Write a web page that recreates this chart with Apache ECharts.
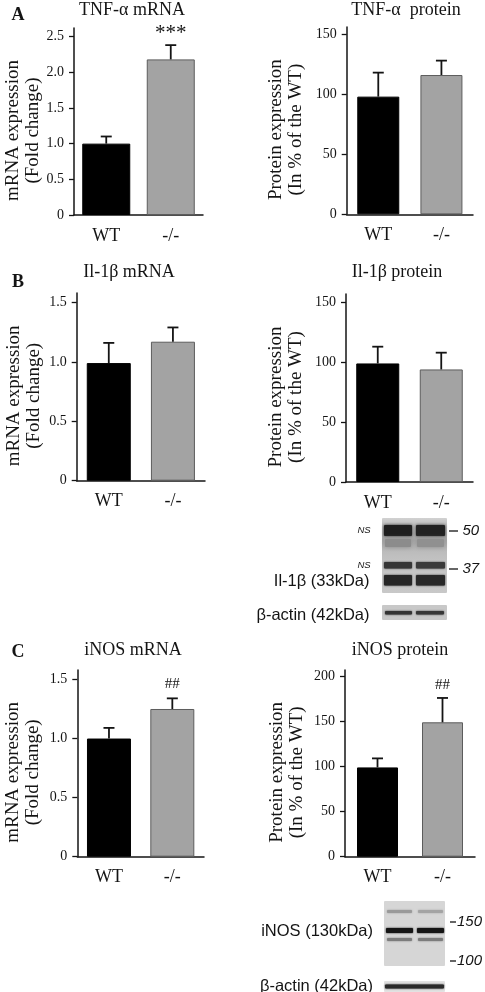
<!DOCTYPE html>
<html><head><meta charset="utf-8">
<script src="https://cdn.jsdelivr.net/npm/echarts@6/dist/echarts.min.js"></script>
<style>html,body{margin:0;padding:0;background:#fff}#c{width:485px;height:992px}</style>
</head><body><div id="c"></div>
<script>
// ---- data ----
const groups = ['WT', '-/-'];
const tnfMrnaMean = [1.00, 2.18];
const tnfMrnaErr = [0.10, 0.20];
const tnfMrnaSig = ['', '***'];
const tnfProtMean = [98, 116];
const tnfProtErr = [20, 12];
const tnfProtSig = ['', ''];
const il1bMrnaMean = [0.99, 1.17];
const il1bMrnaErr = [0.17, 0.12];
const il1bMrnaSig = ['', ''];
const il1bProtMean = [99, 94];
const il1bProtErr = [14, 14];
const il1bProtSig = ['', ''];
const inosMrnaMean = [1.00, 1.25];
const inosMrnaErr = [0.09, 0.09];
const inosMrnaSig = ['', '##'];
const inosProtMean = [99, 149];
const inosProtErr = [10, 27];
const inosProtSig = ['', '##'];
const mrnaTicks15 = [0, 0.5, 1.0, 1.5];
const mrnaTicks25 = [0, 0.5, 1.0, 1.5, 2.0, 2.5];
const protTicks150 = [0, 50, 100, 150];
const protTicks200 = [0, 50, 100, 150, 200];
const mrnaName = 'mRNA expression\n(Fold change)';
const protName = 'Protein expression\n(In % of the WT)';

// ---- styles / layout ----
const SERIF = 'Liberation Serif';
const SANS = 'Liberation Sans';
const INK = '#141414';
const barColors = ['#000000', '#a3a3a3'];
const barBorders = ['#000000', '#5c5c5c'];

const panels = [
  {mean: tnfMrnaMean, err: tnfMrnaErr, sig: tnfMrnaSig, ticks: mrnaTicks25, max: 2.62, name: mrnaName, mrna: true,
   grid: {left: 74, top: 28, width: 129, height: 187}, barWidth: 48, nameGap: 31, sigGap: 12},
  {mean: tnfProtMean, err: tnfProtErr, sig: tnfProtSig, ticks: protTicks150, max: 156, name: protName, mrna: false,
   grid: {left: 346.7, top: 27, width: 126.3, height: 187.3}, barWidth: 42, nameGap: 41, sigGap: 12},
  {mean: il1bMrnaMean, err: il1bMrnaErr, sig: il1bMrnaSig, ticks: mrnaTicks15, max: 1.58, name: mrnaName, mrna: true,
   grid: {left: 76.7, top: 293, width: 128.3, height: 187.7}, barWidth: 44, nameGap: 33, sigGap: 12},
  {mean: il1bProtMean, err: il1bProtErr, sig: il1bProtSig, ticks: protTicks150, max: 157, name: protName, mrna: false,
   grid: {left: 346, top: 294, width: 127, height: 188}, barWidth: 43, nameGap: 40, sigGap: 12},
  {mean: inosMrnaMean, err: inosMrnaErr, sig: inosMrnaSig, ticks: mrnaTicks15, max: 1.58, name: mrnaName, mrna: true,
   grid: {left: 77.3, top: 670, width: 126.7, height: 186.7}, barWidth: 44, nameGap: 34, sigGap: 14},
  {mean: inosProtMean, err: inosProtErr, sig: inosProtSig, ticks: protTicks200, max: 207, name: protName, mrna: false,
   grid: {left: 345, top: 670, width: 130, height: 186.7}, barWidth: 41, nameGap: 38, sigGap: 13}
];

const grid = [], xAxis = [], yAxis = [], series = [];
panels.forEach((p, k) => {
  grid.push(Object.assign({containLabel: false}, p.grid));
  xAxis.push({
    type: 'category', gridIndex: k, data: groups,
    axisLine: {show: true, lineStyle: {color: INK, width: 1.5}},
    axisTick: {show: false},
    axisLabel: {fontFamily: SERIF, fontSize: 18, color: INK, margin: 12},
    splitLine: {show: false}
  });
  yAxis.push({
    type: 'value', gridIndex: k, min: 0, max: p.max,
    axisLine: {show: true, lineStyle: {color: INK, width: 1.5}},
    axisTick: {show: true, length: 5, customValues: p.ticks, lineStyle: {color: INK, width: 1.3}},
    axisLabel: {customValues: p.ticks, margin: 10, fontFamily: SERIF, fontSize: 14, color: INK,
      formatter: v => p.mrna ? (v === 0 ? '0' : v.toFixed(1)) : String(v)},
    splitLine: {show: false},
    name: p.name, nameLocation: 'middle', nameRotate: 90, nameGap: p.nameGap,
    nameTextStyle: {fontFamily: SERIF, fontSize: 19, lineHeight: 20, color: INK, padding: [0, 18, 0, 0]}
  });
  series.push({
    type: 'bar', xAxisIndex: k, yAxisIndex: k, barWidth: p.barWidth, silent: true,
    data: p.mean.map((v, i) => ({value: v, itemStyle: {color: barColors[i], borderColor: barBorders[i], borderWidth: 1}}))
  });
  series.push({
    type: 'custom', xAxisIndex: k, yAxisIndex: k, silent: true, z: 5,
    data: p.mean.map((v, i) => [i, v, p.err[i]]),
    encode: {x: 0, y: 1},
    renderItem: (params, api) => {
      const x = api.value(0), m = api.value(1), e = api.value(2);
      const b = api.coord([x, m]);
      const t = api.coord([x, m + e]);
      const half = 5.5;
      const children = [
        {type: 'line', shape: {x1: b[0], y1: b[1], x2: t[0], y2: t[1]}, style: {stroke: INK, lineWidth: 1.8}},
        {type: 'line', shape: {x1: t[0] - half, y1: t[1], x2: t[0] + half, y2: t[1]}, style: {stroke: INK, lineWidth: 1.8}}
      ];
      const s = p.sig[params.dataIndex];
      if (s) children.push({type: 'text', x: t[0], y: t[1] - p.sigGap,
        style: {text: s, align: 'center', verticalAlign: 'middle', fill: INK,
          font: (s === '***' ? '21px ' : '15px ') + '"' + SERIF + '"'}});
      return {type: 'group', children};
    }
  });
});

// ---- text & blot decorations ----
function txt(x, y, text, font, align, extra) {
  return {type: 'text', x, y, silent: true, style: Object.assign({text, font, fill: INK, align: align || 'center', verticalAlign: 'middle'}, extra || {})};
}
function rect(x, y, w, h, fill, blur) {
  return {type: 'rect', silent: true, shape: {x, y, width: w, height: h, r: 1},
    style: {fill, shadowBlur: blur || 0, shadowColor: typeof fill === 'string' ? fill : 'rgba(0,0,0,0)'}};
}
function vgrad(stops) {
  return {type: 'linear', x: 0, y: 0, x2: 0, y2: 1, colorStops: stops.map(s => ({offset: s[0], color: s[1]}))};
}
function line(x1, y1, x2, y2) {
  return {type: 'line', silent: true, shape: {x1, y1, x2, y2}, style: {stroke: INK, lineWidth: 1.3}};
}
const tFont = '18px "' + SERIF + '"';
const lFont = 'bold 18px "' + SERIF + '"';
const sFont = '16.5px "' + SANS + '"';
const iFont = 'italic 15px "' + SANS + '"';
const nsFont = 'italic 9.5px "' + SANS + '"';

const graphic = [
  txt(18, 15, 'A', lFont), txt(18, 282, 'B', lFont), txt(18, 652, 'C', lFont),
  txt(132, 10, 'TNF-α mRNA', tFont), txt(406, 10, 'TNF-α  protein', tFont),
  txt(129, 272, 'Il-1β mRNA', tFont), txt(397, 272, 'Il-1β protein', tFont),
  txt(133, 650, 'iNOS mRNA', tFont), txt(400, 650, 'iNOS protein', tFont),
  // blot B
  rect(382, 518, 65, 75, vgrad([[0, '#d2d2d2'], [0.12, '#b8b8b8'], [0.3, '#a4a4a4'], [0.45, '#bcbcbc'], [0.6, '#c4c4c4'], [1, '#c8c8c8']])),
  rect(384, 525, 28, 11, '#1e1e1e', 3), rect(416, 525, 29, 11, '#222222', 3),
  rect(385, 539, 26, 8, '#8c8c8c', 4), rect(417, 539, 27, 8, '#909090', 4),
  rect(384, 562, 28, 6.5, '#353535', 2), rect(416, 562, 29, 6.5, '#3a3a3a', 2),
  rect(384, 575, 28, 10.5, '#262626', 2), rect(416, 575, 29, 10.5, '#282828', 2),
  rect(382, 605, 65, 15, '#c8c8c8'),
  rect(385, 611, 27, 3.5, '#333333', 2), rect(416, 611, 28, 3.5, '#363636', 2),
  txt(364, 530, 'NS', nsFont), txt(364, 565, 'NS', nsFont),
  txt(369.5, 581, 'Il-1β (33kDa)', sFont, 'right'),
  txt(369.5, 615, 'β-actin (42kDa)', sFont, 'right'),
  line(449, 531, 458, 531), txt(462.5, 531, '50', iFont, 'left'),
  line(449, 569, 458, 569), txt(462.5, 569, '37', iFont, 'left'),
  // blot C
  rect(384, 901, 61, 65, '#d6d6d6'),
  rect(387, 910, 25, 3, '#9a9a9a', 2), rect(418, 910, 25, 3, '#a4a4a4', 2),
  rect(386, 928, 27, 5, '#151515', 2), rect(417, 928, 27, 5, '#151515', 2),
  rect(387, 938, 25, 3, '#7c7c7c', 2), rect(418, 938, 25, 3, '#7c7c7c', 2),
  rect(384, 981, 61, 11, '#e2e2e2'),
  rect(385, 984.5, 59, 4, '#2a2a2a', 2),
  txt(373, 931, 'iNOS (130kDa)', sFont, 'right'),
  txt(373, 986, 'β-actin (42kDa)', sFont, 'right'),
  line(450, 922, 456, 922), txt(457, 922, '150', iFont, 'left'),
  line(450, 961, 456, 961), txt(457, 961, '100', iFont, 'left')
];

const chart = echarts.init(document.getElementById('c'), null, {renderer: 'canvas'});
chart.setOption({
  animation: false,
  backgroundColor: '#ffffff',
  grid, xAxis, yAxis, series, graphic
});
</script></body></html>
